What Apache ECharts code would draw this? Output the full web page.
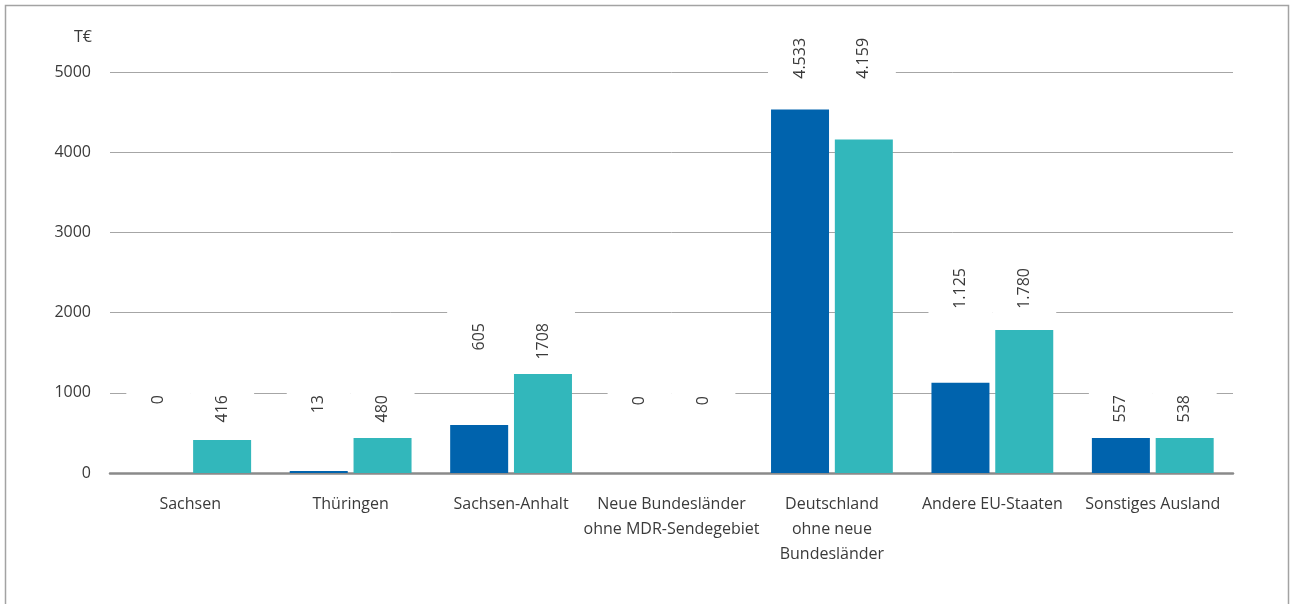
<!DOCTYPE html>
<html>
<head>
<meta charset="utf-8">
<script src="https://cdn.jsdelivr.net/npm/echarts@6/dist/echarts.min.js"></script>
<style>
html,body{margin:0;padding:0;background:#fff;}
#chart{width:1290px;height:604px;}
</style>
</head>
<body>
<div id="chart"></div>
<script>
// ---- data ----
const categories = ['Sachsen', 'Thüringen', 'Sachsen-Anhalt', 'Neue Bundesländer\nohne MDR-Sendegebiet', 'Deutschland\nohne neue\nBundesländer', 'Andere EU-Staaten', 'Sonstiges Ausland'];
const darkValues = [0, 25, 600, 0, 4533, 1125, 436];
const tealValues = [411, 436, 1234, 0, 4159, 1783, 436];
const darkLabels = ['0', '13', '605', '0', '4.533', '1.125', '557'];
const tealLabels = ['416', '480', '1708', '0', '4.159', '1.780', '538'];
// height (in T€) at which each category's value labels are hung
const labelLevel = [1122, 1122, 2020, 1110, 5574, 2706, 1122];
const yTicks = [0, 1000, 2000, 3000, 4000, 5000];

const DARK = '#0063AD';
const TEAL = '#32B7BB';
const FONT = 'Open Sans';

const chart = echarts.init(document.getElementById('chart'));

function ghostLabel(texts) {
  return {
    show: true,
    position: 'insideTop',
    distance: 0,
    rotate: 90,
    align: 'right',
    verticalAlign: 'middle',
    backgroundColor: '#ffffff',
    padding: [24, 12, 24, 12],
    lineHeight: 16,
    fontSize: 16,
    fontFamily: FONT,
    color: '#3a3a3a',
    formatter: p => texts[p.dataIndex]
  };
}

const option = {
  animation: false,
  graphic: [{
    type: 'rect', silent: true, z: 100,
    shape: { x: 5.5, y: 5.5, width: 1283, height: 700 },
    style: { fill: 'none', stroke: '#a3a3a3', lineWidth: 1.5 }
  }],
  grid: { left: 110, right: 57, top: 72, bottom: 131, containLabel: false },
  xAxis: {
    type: 'category',
    data: categories,
    axisTick: { show: false },
    axisLine: { show: true, lineStyle: { color: '#8a8a8a', width: 2.5 } },
    axisLabel: {
      interval: 0, margin: 19, fontSize: 16, lineHeight: 25,
      fontFamily: FONT, color: '#3a3a3a'
    }
  },
  yAxis: {
    type: 'value',
    min: yTicks[0], max: yTicks[yTicks.length - 1], interval: 1000,
    name: 'T€',
    nameLocation: 'end',
    nameGap: 35,
    nameTextStyle: { fontSize: 16, fontFamily: FONT, color: '#3a3a3a', align: 'right', verticalAlign: 'middle', padding: [0, 18, 0, 0] },
    axisLine: { show: false },
    axisTick: { show: false },
    axisLabel: { margin: 19, fontSize: 16, fontFamily: FONT, color: '#3a3a3a', formatter: v => String(v) },
    splitLine: { show: true, lineStyle: { color: '#a6a6a6', width: 1 } }
  },
  series: [
    {
      type: 'bar', name: 'dark', stack: 'a', data: darkValues,
      barWidth: 58, barGap: '10%',
      itemStyle: { color: DARK }, silent: true
    },
    {
      type: 'bar', name: 'teal', stack: 'b', data: tealValues,
      barWidth: 58, barGap: '10%',
      itemStyle: { color: TEAL }, silent: true
    },
    {
      type: 'bar', name: 'darkLabel', stack: 'a',
      data: labelLevel.map((l, i) => l - darkValues[i]),
      barWidth: 58, barGap: '10%', clip: false, silent: true,
      itemStyle: { color: 'rgba(0,0,0,0)' },
      label: ghostLabel(darkLabels)
    },
    {
      type: 'bar', name: 'tealLabel', stack: 'b',
      data: labelLevel.map((l, i) => l - tealValues[i]),
      barWidth: 58, barGap: '10%', clip: false, silent: true,
      itemStyle: { color: 'rgba(0,0,0,0)' },
      label: ghostLabel(tealLabels)
    }
  ]
};
chart.setOption(option);
</script>
</body>
</html>
